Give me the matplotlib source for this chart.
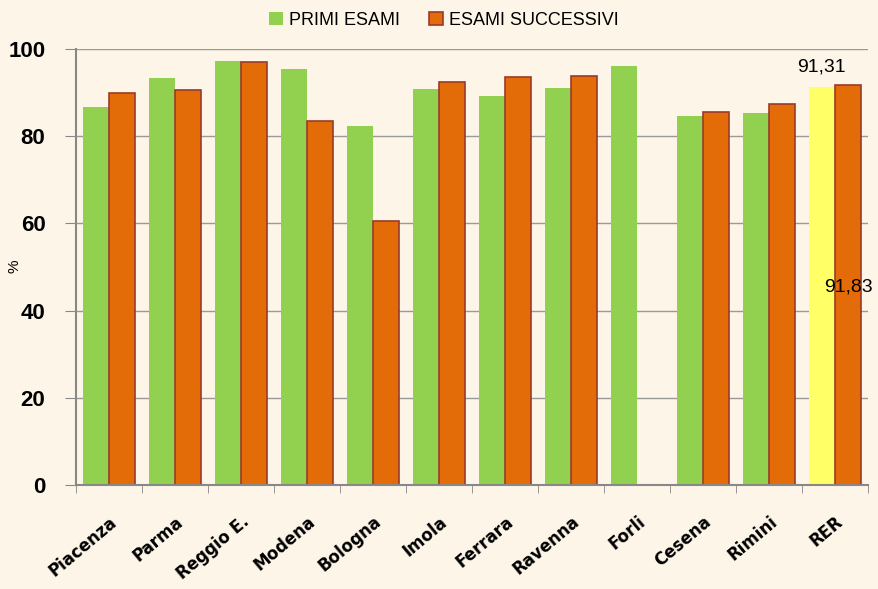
import matplotlib
matplotlib.use("Agg")
import matplotlib.pyplot as plt
import numpy as np

categories = ["Piacenza", "Parma", "Reggio E.", "Modena", "Bologna", "Imola",
              "Ferrara", "Ravenna", "Forli", "Cesena", "Rimini", "RER"]
primi_esami = [86.8, 93.3, 97.2, 95.4, 82.3, 90.8, 89.3, 91.1, 96.2, 84.6, 85.3, 91.31]
esami_successivi = [90.0, 90.6, 97.1, 83.4, 60.6, 92.4, 93.5, 93.9, np.nan, 85.6, 87.3, 91.83]
legend_labels = ["PRIMI ESAMI", "ESAMI SUCCESSIVI"]
yticks = [0, 20, 40, 60, 80, 100]
rer_labels = ["91,31", "91,83"]

green = "#92D050"
orange = "#E36C09"
yellow = "#FFFF66"
bg = "#FDF5E8"

fig = plt.figure(figsize=(8.79, 5.89), dpi=100, facecolor=bg)
ax = fig.add_axes([0.0865, 0.1766, 0.901, 0.7402])
ax.set_facecolor("none")

x = np.arange(len(categories))
w = 0.4
gcolors = [green] * (len(categories) - 1) + [yellow]
b1 = ax.bar(x - w / 2, primi_esami, width=w, color=gcolors, edgecolor="none",
            zorder=2, label=legend_labels[0])
b2 = ax.bar(x + w / 2, esami_successivi, width=w, color=orange, edgecolor="#9B3A2A",
            linewidth=1.2, zorder=2, label=legend_labels[1])

ax.set_xlim(-0.5, len(categories) - 0.5)
ax.set_ylim(0, 100)
ax.set_yticks(yticks)
ax.set_yticklabels([str(v) for v in yticks], fontsize=16, fontweight="bold",
                   family="Liberation Sans")
ax.tick_params(axis="y", length=8, color="#888888", pad=14)

ax.set_xticks(x)
ax.set_xticklabels(categories, rotation=40, ha="right", rotation_mode="anchor",
                   fontsize=12, fontweight="bold", family="DejaVu Sans")
ax.tick_params(axis="x", which="major", length=0, pad=20)
ax.set_xticks(np.arange(-0.5, len(categories)), minor=True)
ax.tick_params(axis="x", which="minor", length=6, color="#888888")

ax.grid(axis="y", color="#999999", linewidth=1.0, zorder=0)
ax.set_axisbelow(True)
for s in ["top", "right"]:
    ax.spines[s].set_visible(False)
for s in ["left", "bottom"]:
    ax.spines[s].set_color("#888888")
    ax.spines[s].set_linewidth(1.5)

fig.text(0.017, 1 - 266 / 589, "%", rotation=90, ha="center", va="center",
         fontsize=11, family="Liberation Sans")

ax.text(x[-1] - w / 2, primi_esami[-1] + 2.6, rer_labels[0], ha="center", va="bottom",
        fontsize=14, family="Liberation Sans")
ax.text(x[-1] + w / 2, 45.4, rer_labels[1], ha="center", va="center",
        fontsize=14, family="Liberation Sans")

leg = fig.legend(handles=[b1[0], b2[0]], labels=legend_labels, loc="center",
                 bbox_to_anchor=(0.505, 0.966), ncol=2, frameon=False,
                 prop={"family": "Liberation Sans", "size": 13},
                 handlelength=0.75, handleheight=0.75, columnspacing=1.6, handletextpad=0.35)
leg.legend_handles[0].set_facecolor(green)

fig.savefig("out.png", dpi=100, facecolor=bg)
